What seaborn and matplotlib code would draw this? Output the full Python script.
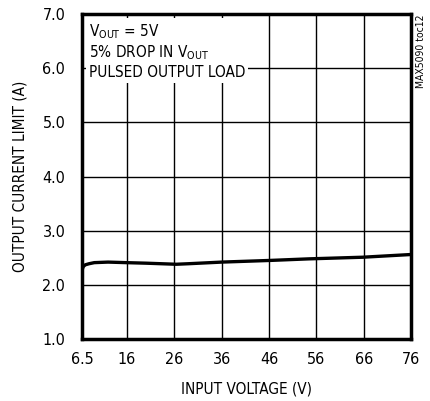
import numpy as np
import pandas as pd
import seaborn as sns
import matplotlib.pyplot as plt

# values
input_voltage = [6.5, 6.55, 6.6, 6.8, 7.2, 8.0, 9.1, 12.0, 15.8, 20.0, 26.4, 29.0, 36.0, 46.0, 54.5, 65.8, 76.0]
current_limit = [2.20, 2.26, 2.30, 2.34, 2.37, 2.39, 2.41, 2.42, 2.41, 2.40, 2.38, 2.39, 2.42, 2.45, 2.48, 2.51, 2.56]

x_ticks = [6.5, 16, 26, 36, 46, 56, 66, 76]
x_tick_labels = ['6.5', '16', '26', '36', '46', '56', '66', '76']
y_ticks = [1.0, 2.0, 3.0, 4.0, 5.0, 6.0, 7.0]

df = pd.DataFrame({'vin': input_voltage, 'ilim': current_limit})

sns.set_style('white')
plt.rcParams['font.family'] = ['DejaVu Sans']
plt.rcParams['font.stretch'] = 'condensed'
plt.rcParams['text.color'] = 'black'
plt.rcParams['axes.labelcolor'] = 'black'
plt.rcParams['xtick.color'] = 'black'
plt.rcParams['ytick.color'] = 'black'
plt.rcParams['mathtext.fontset'] = 'custom'
plt.rcParams['mathtext.rm'] = 'DejaVu Sans:stretch=condensed'

fig = plt.figure(figsize=(4.30, 4.01), dpi=100)
ax = fig.add_axes([0.1907, 0.1546, 0.9558 - 0.1907, 0.965 - 0.1546])

sns.lineplot(data=df, x='vin', y='ilim', ax=ax, color='black', linewidth=2.4, zorder=3)

ax.set_xlim(6.5, 76)
ax.set_ylim(1.0, 7.0)
ax.set_xticks(x_ticks)
ax.set_xticklabels(x_tick_labels)
ax.set_yticks(y_ticks)
ax.set_yticklabels([f'{v:.1f}' for v in y_ticks])
ax.tick_params(length=0, labelsize=11.5)
ax.tick_params(axis='y', pad=12)
ax.tick_params(axis='x', pad=9)
ax.grid(True, color='black', linewidth=1.0)
for s in ax.spines.values():
    s.set_visible(True)
    s.set_color('black')
    s.set_linewidth(2.5)

ax.set_xlabel('INPUT VOLTAGE (V)', fontsize=11, labelpad=11)
ax.set_ylabel('OUTPUT CURRENT LIMIT (A)', fontsize=11, labelpad=11)

ax.text(0.02, 0.975, 'V$_{\\mathrm{OUT}}$ = 5V\n5% DROP IN V$_{\\mathrm{OUT}}$\nPULSED OUTPUT LOAD',
        transform=ax.transAxes, ha='left', va='top', fontsize=11, linespacing=1.2, zorder=4,
        bbox=dict(facecolor='white', edgecolor='none', pad=2))

fig.text(0.978, 0.965, 'MAX5090 toc12', rotation=90, ha='center', va='top', fontsize=7.5)

plt.savefig('out.png', dpi=100)
